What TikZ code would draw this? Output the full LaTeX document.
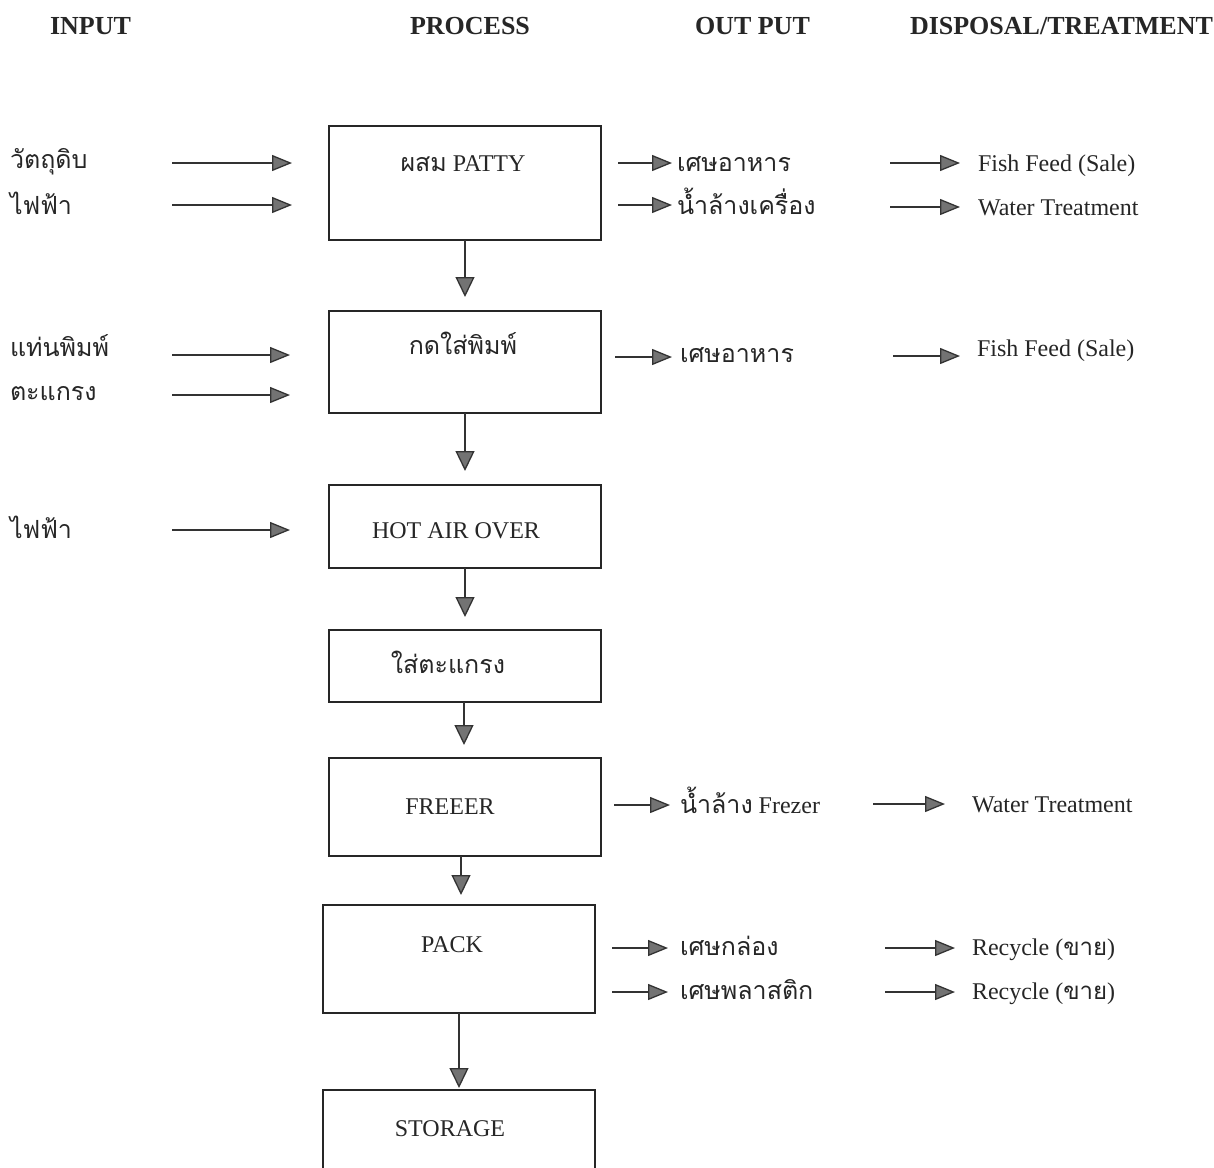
\documentclass[tikz,border=0pt]{standalone}
\usepackage{fontspec}
\setmainfont{Liberation Serif}
\newfontfamily\thai[Script=Thai]{Loma}
\usetikzlibrary{arrows.meta}
\begin{document}
\begin{tikzpicture}[x=1pt,y=-1pt,
  every node/.style={inner sep=0pt,outer sep=0pt,text=black!85},
  head/.style={anchor=base west,font=\fontsize{26}{30}\selectfont\bfseries},
  txt/.style={anchor=base west,font=\fontsize{24}{28}\selectfont},
  thaitxt/.style={anchor=base west,font=\fontsize{25}{28}\selectfont\thai},
  boxtxt/.style={anchor=base,font=\fontsize{24}{28}\selectfont},
  procbox/.style={draw=black!85,line width=1.7pt,minimum width=272pt,anchor=north west},
  flow/.style={draw=black!80,line width=1.3pt,-{Triangle[length=20pt,width=16pt,fill=black!55]}},
  vflow/.style={flow,-{Triangle[length=20pt,width=19pt,fill=black!55]}},
]
\useasboundingbox (0,0) rectangle (1214,1167);
\clip (0,0) rectangle (1214,1167);
\fill[white] (0,0) rectangle (1214,1167);

% column headings
\node[head] (hin)  at (50,34)  {INPUT};
\node[head] (hpro) at (410,34) {PROCESS};
\node[head] (hout) at (695,34) {OUT PUT};
\node[head] (hdis) at (910,34) {DISPOSAL/TREATMENT};

% process boxes
\node[procbox,minimum height=114pt] (b1) at (329,126)  {};
\node[procbox,minimum height=102pt] (b2) at (329,311)  {};
\node[procbox,minimum height=83pt]  (b3) at (329,485)  {};
\node[procbox,minimum height=72pt]  (b4) at (329,630)  {};
\node[procbox,minimum height=98pt]  (b5) at (329,758)  {};
\node[procbox,minimum height=108pt] (b6) at (323,905)  {};
\node[procbox,minimum height=100pt] (b7) at (323,1090) {};

% box captions
\node[boxtxt] (t1) at (463,171)  {{\fontsize{25}{28}\selectfont\thai ผสม} PATTY};
\node[boxtxt,font=\fontsize{25}{28}\selectfont\thai] (t2) at (463,354) {กดใส่พิมพ์};
\node[boxtxt] (t3) at (456,538)  {HOT AIR OVER};
\node[boxtxt,font=\fontsize{25}{28}\selectfont\thai] (t4) at (448,673) {ใส่ตะแกรง};
\node[boxtxt] (t5) at (450,814)  {FREEER};
\node[boxtxt] (t6) at (452,952)  {PACK};
\node[boxtxt] (t7) at (450,1136) {STORAGE};

% flow between process steps
\coordinate (v1) at (465,297);
\coordinate (v2) at (465,471);
\coordinate (v3) at (465,617);
\coordinate (v4) at (464,745);
\coordinate (v5) at (461,895);
\coordinate (v6) at (459,1088);
\draw[vflow] (b1.south -| v1) -- (v1);
\draw[vflow] (b2.south -| v2) -- (v2);
\draw[vflow] (b3.south -| v3) -- (v3);
\draw[vflow] (b4.south -| v4) -- (v4);
\draw[vflow] (b5.south -| v5) -- (v5);
\draw[vflow] (b6.south -| v6) -- (v6);

% inputs
\node[thaitxt] (in1) at (10,168) {วัตถุดิบ};
\node[thaitxt] (in2) at (10,214) {ไฟฟ้า};
\node[thaitxt] (in3) at (10,356) {แท่นพิมพ์};
\node[thaitxt] (in4) at (10,400) {ตะแกรง};
\node[thaitxt] (in5) at (10,538) {ไฟฟ้า};
\coordinate (ia1) at (172,163); \coordinate (ib1) at (292,163);
\coordinate (ia2) at (172,205); \coordinate (ib2) at (292,205);
\coordinate (ia3) at (172,355); \coordinate (ib3) at (290,355);
\coordinate (ia4) at (172,395); \coordinate (ib4) at (290,395);
\coordinate (ia5) at (172,530); \coordinate (ib5) at (290,530);
\draw[flow] (ia1) -- (ib1);
\draw[flow] (ia2) -- (ib2);
\draw[flow] (ia3) -- (ib3);
\draw[flow] (ia4) -- (ib4);
\draw[flow] (ia5) -- (ib5);

% outputs
\node[thaitxt] (o1) at (677,171) {เศษอาหาร};
\node[thaitxt] (o2) at (677,214) {น้ำล้างเครื่อง};
\node[thaitxt] (o3) at (680,362) {เศษอาหาร};
\node[txt]     (o4) at (680,813) {{\fontsize{25}{28}\selectfont\thai น้ำล้าง} Frezer};
\node[thaitxt] (o5) at (680,955) {เศษกล่อง};
\node[thaitxt] (o6) at (680,999) {เศษพลาสติก};
\coordinate (oa1) at (618,163); \coordinate (ob1) at (672,163);
\coordinate (oa2) at (618,205); \coordinate (ob2) at (672,205);
\coordinate (oa3) at (615,357); \coordinate (ob3) at (672,357);
\coordinate (oa4) at (614,805); \coordinate (ob4) at (670,805);
\coordinate (oa5) at (612,948); \coordinate (ob5) at (668,948);
\coordinate (oa6) at (612,992); \coordinate (ob6) at (668,992);
\draw[flow] (oa1) -- (ob1);
\draw[flow] (oa2) -- (ob2);
\draw[flow] (oa3) -- (ob3);
\draw[flow] (oa4) -- (ob4);
\draw[flow] (oa5) -- (ob5);
\draw[flow] (oa6) -- (ob6);

% disposal / treatment
\node[txt] (d1) at (978,171) {Fish Feed (Sale)};
\node[txt] (d2) at (978,215) {Water Treatment};
\node[txt] (d3) at (977,356) {Fish Feed (Sale)};
\node[txt] (d4) at (972,812) {Water Treatment};
\node[txt] (d5) at (972,955) {Recycle ({\thai ขาย})};
\node[txt] (d6) at (972,999) {Recycle ({\thai ขาย})};
\coordinate (da1) at (890,163); \coordinate (db1) at (960,163);
\coordinate (da2) at (890,207); \coordinate (db2) at (960,207);
\coordinate (da3) at (893,356); \coordinate (db3) at (960,356);
\coordinate (da4) at (873,804); \coordinate (db4) at (945,804);
\coordinate (da5) at (885,948); \coordinate (db5) at (955,948);
\coordinate (da6) at (885,992); \coordinate (db6) at (955,992);
\draw[flow] (da1) -- (db1);
\draw[flow] (da2) -- (db2);
\draw[flow] (da3) -- (db3);
\draw[flow] (da4) -- (db4);
\draw[flow] (da5) -- (db5);
\draw[flow] (da6) -- (db6);
\end{tikzpicture}
\end{document}
